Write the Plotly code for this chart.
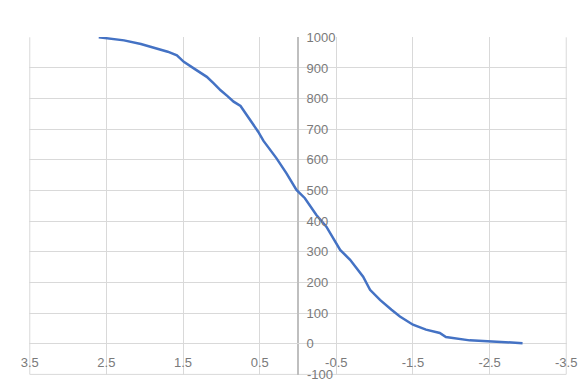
import plotly.graph_objects as go

# sorted values (x) against rank (y)
values = [2.60, 2.45, 2.27, 2.05, 1.84, 1.70, 1.58, 1.49, 1.35, 1.19, 1.10, 1.01,
          0.92, 0.84, 0.75, 0.62, 0.52, 0.45, 0.37, 0.28, 0.15, 0.02, -0.09, -0.24,
          -0.37, -0.50, -0.55, -0.68, -0.78, -0.85, -0.94, -1.07, -1.22, -1.33,
          -1.50, -1.67, -1.85, -1.93, -2.24, -2.50, -2.93]
ranks = [1000, 996, 990, 978, 963, 953, 941, 920, 897, 871, 850, 827,
         808, 790, 776, 730, 692, 662, 635, 605, 556, 502, 475, 420,
         382, 328, 306, 274, 243, 219, 176, 143, 111, 89,
         62, 46, 35, 22, 11, 7, 2]

x_ticks = [3.5, 2.5, 1.5, 0.5, -0.5, -1.5, -2.5, -3.5]
x_labels = ["3.5", "2.5", "1.5", "0.5", "-0.5", "-1.5", "-2.5", "-3.5"]
y_ticks = list(range(-100, 1001, 100))

grid = "#d9d9d9"
txt = "#7a7a7a"

y_lo, y_hi = -102, 1001

fig = go.Figure()
fig.add_trace(go.Scatter(x=values, y=ranks, mode="lines",
                         line=dict(color="#4472C4", width=2.5), showlegend=False))

fig.update_layout(
    width=588, height=381,
    margin=dict(l=29, r=21, t=37, b=6),
    paper_bgcolor="white", plot_bgcolor="white",
    font=dict(family="Liberation Sans, Arial, sans-serif", size=13, color=txt),
    xaxis=dict(range=[3.51, -3.51], tickvals=x_ticks, ticktext=x_labels,
               showgrid=True, gridcolor=grid, gridwidth=1,
               zeroline=True, zerolinecolor="#bfbfbf", zerolinewidth=1.5,
               anchor="free", position=(0 - y_lo) / (y_hi - y_lo),
               ticks="outside", ticklen=7, tickcolor="rgba(0,0,0,0)",
               showline=False),
    yaxis=dict(range=[y_lo, y_hi], tickvals=y_ticks,
               showgrid=True, gridcolor=grid, gridwidth=1,
               zeroline=True, zerolinecolor=grid, zerolinewidth=1,
               side="right", anchor="free", position=0.5,
               ticks="outside", ticklen=5, tickcolor="rgba(0,0,0,0)",
               showline=False),
    shapes=[
        dict(type="line", xref="x", yref="y", x0=3.5, x1=3.5, y0=-100, y1=1000,
             line=dict(color=grid, width=1), layer="below"),
        dict(type="line", xref="x", yref="y", x0=-3.5, x1=-3.5, y0=-100, y1=1000,
             line=dict(color=grid, width=1), layer="below"),
        dict(type="line", xref="x", yref="y", x0=3.5, x1=-3.5, y0=-100, y1=-100,
             line=dict(color=grid, width=1), layer="below"),
    ],
    annotations=[
        dict(text=str(y_ticks[0]), x=0, y=y_ticks[0], xref="x", yref="y",
             xanchor="left", yanchor="middle", xshift=7, showarrow=False,
             font=dict(family="Liberation Sans, Arial, sans-serif", size=13, color=txt)),
    ],
)

fig.write_html("out.html")
